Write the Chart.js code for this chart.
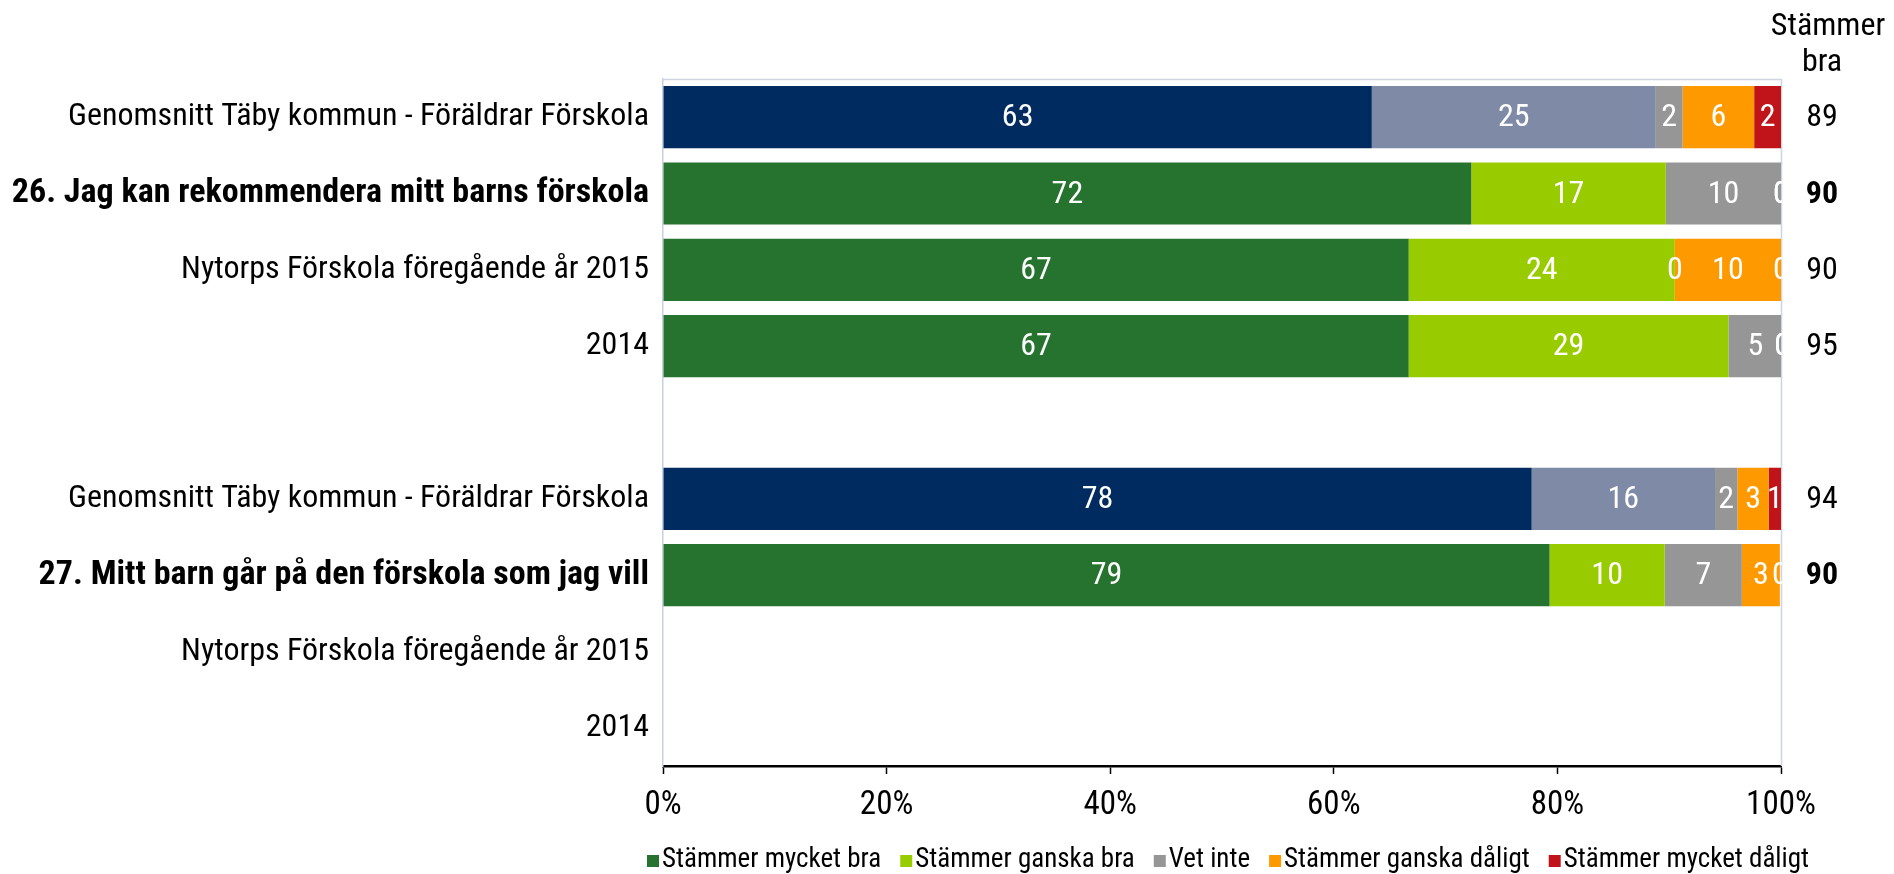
<!DOCTYPE html>
<html>
<head>
<meta charset="utf-8">
<script src="https://cdn.jsdelivr.net/npm/chart.js@4/dist/chart.umd.min.js"></script>
<style>
    html, body { margin: 0; padding: 0; background: #fff; }
    #grafico { display: block; }
</style>
</head>
<body>
<canvas id="grafico" width="1894" height="874"></canvas>
<script>
// kategorier (tom rad i mitten skiljer frågorna åt)
const kategorier = [
    'Genomsnitt Täby kommun - Föräldrar Förskola',
    '26. Jag kan rekommendera mitt barns förskola',
    'Nytorps Förskola föregående år 2015',
    '2014',
    '',
    'Genomsnitt Täby kommun - Föräldrar Förskola',
    '27. Mitt barn går på den förskola som jag vill',
    'Nytorps Förskola föregående år 2015',
    '2014'
];
const serieNamn = ['Stämmer mycket bra', 'Stämmer ganska bra', 'Vet inte', 'Stämmer ganska dåligt', 'Stämmer mycket dåligt'];

// andelar i procent
const mycketBra    = [63.4, 72.3, 66.7, 66.7, null, 77.7, 79.3, null, null];
const ganskaBra    = [25.4, 17.4, 23.8, 28.6, null, 16.4, 10.3, null, null];
const vetInte      = [2.4, 10.3, 0, 4.8, null, 2.0, 6.9, null, null];
const ganskaDaligt = [6.4, 0, 9.5, 0, null, 2.8, 3.4, null, null];
const mycketDaligt = [2.4, 0, 0, 0, null, 1.1, 0, null, null];
const stammerBra   = [89, 90, 90, 95, null, 94, 90, null, null];
const xTicks = [0, 20, 40, 60, 80, 100];

const farger     = ['#267330', '#99CC00', '#969696', '#FF9900', '#C0141A'];
const snittFarger = ['#002B60', '#7F8BA6', '#969696', '#FF9900', '#C0141A'];
const fontFamily = "'Roboto Condensed', 'Liberation Sans', sans-serif";

function arFraga(namn) {
    return /^\d+\./.test(namn);
}

function plotarGrafico() {
    console.log('iniciando plotagem do gráfico...');

    const serier = [mycketBra, ganskaBra, vetInte, ganskaDaligt, mycketDaligt];
    const datasets = serier.map(function (data, i) {
        return {
            label: serieNamn[i],
            data: data,
            backgroundColor: kategorier.map(function (k) {
                return k.startsWith('Genomsnitt') ? snittFarger[i] : farger[i];
            }),
            borderWidth: 0,
            barPercentage: 0.815,
            categoryPercentage: 1
        };
    });

    const ramPlugin = {
        id: 'ram',
        beforeDatasetsDraw(chart) {
            const ctx = chart.ctx, a = chart.chartArea;
            ctx.save();
            ctx.strokeStyle = '#CDD4E2';
            ctx.lineWidth = 1.5;
            ctx.beginPath();
            ctx.moveTo(a.left, a.top + 0.5);
            ctx.lineTo(a.right + 0.5, a.top + 0.5);
            ctx.lineTo(a.right + 0.5, a.bottom);
            ctx.stroke();
            ctx.restore();
        }
    };

    const etikettPlugin = {
        id: 'etiketter',
        afterDatasetsDraw(chart) {
            const ctx = chart.ctx, a = chart.chartArea;
            ctx.save();
            ctx.beginPath();
            ctx.rect(a.left, a.top, a.right - a.left + 1, a.bottom - a.top);
            ctx.clip();
            ctx.fillStyle = '#fff';
            ctx.font = '32px ' + fontFamily;
            ctx.textAlign = 'center';
            ctx.textBaseline = 'middle';
            chart.data.datasets.forEach(function (ds, i) {
                const meta = chart.getDatasetMeta(i);
                meta.data.forEach(function (bar, j) {
                    const v = ds.data[j];
                    if (v === null || v === undefined) return;
                    const p = bar.getProps(['x', 'base', 'y'], true);
                    ctx.fillText(String(Math.round(v)), (p.x + p.base) / 2, p.y + 1);
                });
            });
            ctx.restore();
        }
    };

    const hogerPlugin = {
        id: 'stammerBra',
        afterDraw(chart) {
            const ctx = chart.ctx, y = chart.scales.y;
            const cx = 1822;
            ctx.save();
            ctx.fillStyle = '#000';
            ctx.textAlign = 'center';
            ctx.textBaseline = 'middle';
            ctx.font = '32px ' + fontFamily;
            ctx.fillText('Stämmer', cx + 6, 27);
            ctx.fillText('bra', cx, 63);
            stammerBra.forEach(function (v, j) {
                if (v === null) return;
                ctx.font = (arFraga(kategorier[j]) ? 'bold ' : '') + '32px ' + fontFamily;
                ctx.fillText(String(v), cx, y.getPixelForValue(j) + 1);
            });
            ctx.restore();
        }
    };

    const legendPlugin = {
        id: 'egenLegend',
        afterDraw(chart) {
            const ctx = chart.ctx;
            let x = 647;
            const yMid = 860;
            ctx.save();
            ctx.font = '27px ' + fontFamily;
            ctx.textBaseline = 'middle';
            ctx.textAlign = 'left';
            serieNamn.forEach(function (namn, i) {
                ctx.fillStyle = farger[i];
                ctx.fillRect(x, yMid - 5, 12, 12);
                x += 15;
                ctx.fillStyle = '#000';
                ctx.fillText(namn, x, yMid);
                x += ctx.measureText(namn).width + 19;
            });
            ctx.restore();
        }
    };

    const config = {
        type: 'bar',
        data: { labels: kategorier, datasets: datasets },
        options: {
            indexAxis: 'y',
            responsive: false,
            animation: false,
            layout: { padding: { left: 0, top: 79, right: 113, bottom: 0 } },
            plugins: {
                legend: { display: false },
                tooltip: { enabled: false }
            },
            scales: {
                x: {
                    stacked: true,
                    min: 0,
                    max: 100,
                    afterBuildTicks: function (s) {
                        s.ticks = xTicks.map(function (v) { return { value: v }; });
                    },
                    afterFit: function (s) { s.height = 108; },
                    grid: { drawOnChartArea: false, tickLength: 8, tickColor: '#000', tickWidth: 1.5 },
                    border: { color: '#000', width: 2.5 },
                    ticks: {
                        padding: 12,
                        color: '#000',
                        font: { family: fontFamily, size: 33 },
                        callback: function (v) { return v + '%'; }
                    }
                },
                y: {
                    stacked: true,
                    afterFit: function (s) { s.width = 663; },
                    grid: { drawOnChartArea: false, drawTicks: false },
                    border: { color: '#C8D0E0', width: 1.5 },
                    ticks: {
                        autoSkip: false,
                        padding: 14,
                        color: '#000',
                        font: function (c) {
                            const fet = arFraga(kategorier[c.index]);
                            return {
                                family: fontFamily,
                                size: fet ? 34 : 32,
                                weight: fet ? 'bold' : 'normal'
                            };
                        }
                    }
                }
            }
        },
        plugins: [ramPlugin, etikettPlugin, hogerPlugin, legendPlugin]
    };

    const ctx = document.getElementById('grafico').getContext('2d');
    if (window.myChart) {
        window.myChart.destroy();
    }
    window.myChart = new Chart(ctx, config);
}

plotarGrafico();
</script>
</body>
</html>
